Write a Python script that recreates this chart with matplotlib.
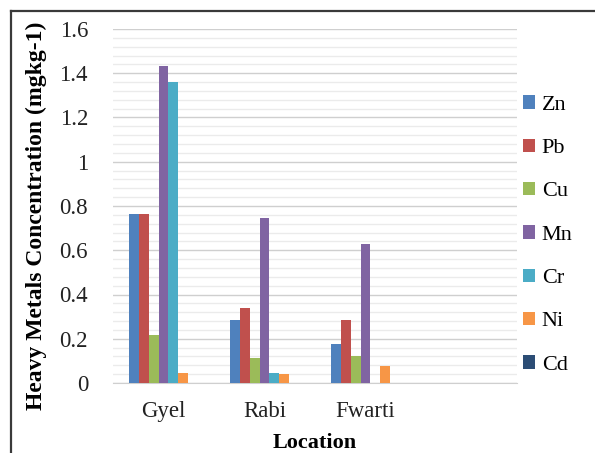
import numpy as np
import matplotlib
matplotlib.use("Agg")
import matplotlib.pyplot as plt
from matplotlib.lines import Line2D
from matplotlib.ticker import MultipleLocator, FuncFormatter

plt.rcParams['font.family'] = ['Liberation Serif', 'DejaVu Serif']

# data
locations = ['Gyel', 'Rabi', 'Fwarti']
metals = ['Zn', 'Pb', 'Cu', 'Mn', 'Cr', 'Ni', 'Cd']
zn = [0.762, 0.283, 0.175]
pb = [0.762, 0.338, 0.283]
cu = [0.218, 0.112, 0.122]
mn = [1.433, 0.744, 0.627]
cr = [1.360, 0.047, 0.0]
ni = [0.047, 0.039, 0.075]
cd = [0.0, 0.0, 0.0]
values = [zn, pb, cu, mn, cr, ni, cd]

colors = ['#4F81BD', '#C0504D', '#9BBB59', '#8064A2', '#4BACC6', '#F79646', '#2C4D75']

fig = plt.figure(figsize=(5.95, 4.53), dpi=100)
ax = fig.add_axes([113 / 595, 1 - 383 / 453, 404 / 595, 354 / 453])

x = np.arange(len(locations))
w = 0.099
for i, (name, vals) in enumerate(zip(metals, values)):
    ax.bar(x + (i - 3) * w, vals, width=w, color=colors[i], label=name, zorder=3)

ax.set_xlim(-0.5, 3.5)
ax.set_ylim(0, 1.6)
ax.set_xticks(x)
ax.set_xticklabels(locations)
ax.yaxis.set_major_locator(MultipleLocator(0.2))
ax.yaxis.set_minor_locator(MultipleLocator(0.04))
ax.yaxis.set_major_formatter(FuncFormatter(lambda v, p: '%g' % round(v, 2)))
ax.grid(axis='y', which='major', color='#cfcfcf', lw=1.0, zorder=0)
ax.grid(axis='y', which='minor', color='#ebebeb', lw=1.0, zorder=0)
for s in ['top', 'right', 'left']:
    ax.spines[s].set_visible(False)
ax.spines['bottom'].set_color('#cfcfcf')
ax.tick_params(axis='both', which='both', length=0, labelsize=16.5, colors='#222222')
ax.tick_params(axis='y', pad=18)
ax.tick_params(axis='x', pad=13)

ax.set_ylabel('Heavy Metals Concentration (mgkg-1)', fontsize=17, fontweight='bold')
ax.set_xlabel('Location', fontsize=16, fontweight='bold', labelpad=8)
ax.yaxis.set_label_coords(-0.163, 0.472, transform=ax.transAxes)

leg = fig.legend(loc='center left', bbox_to_anchor=(514 / 595, 1 - 235 / 453), frameon=False,
                 fontsize=16, handlelength=0.55, handleheight=0.55, handletextpad=0.3,
                 labelspacing=1.07, borderaxespad=0)

# outer frame (top and left only are visible)
fig.add_artist(Line2D([11 / 595, 1], [1 - 11 / 453, 1 - 11 / 453], transform=fig.transFigure,
                      color='#3a3a3a', lw=1.6))
fig.add_artist(Line2D([11 / 595, 11 / 595], [0, 1 - 11 / 453], transform=fig.transFigure,
                      color='#3a3a3a', lw=1.6))

fig.savefig('out.png', dpi=100)
